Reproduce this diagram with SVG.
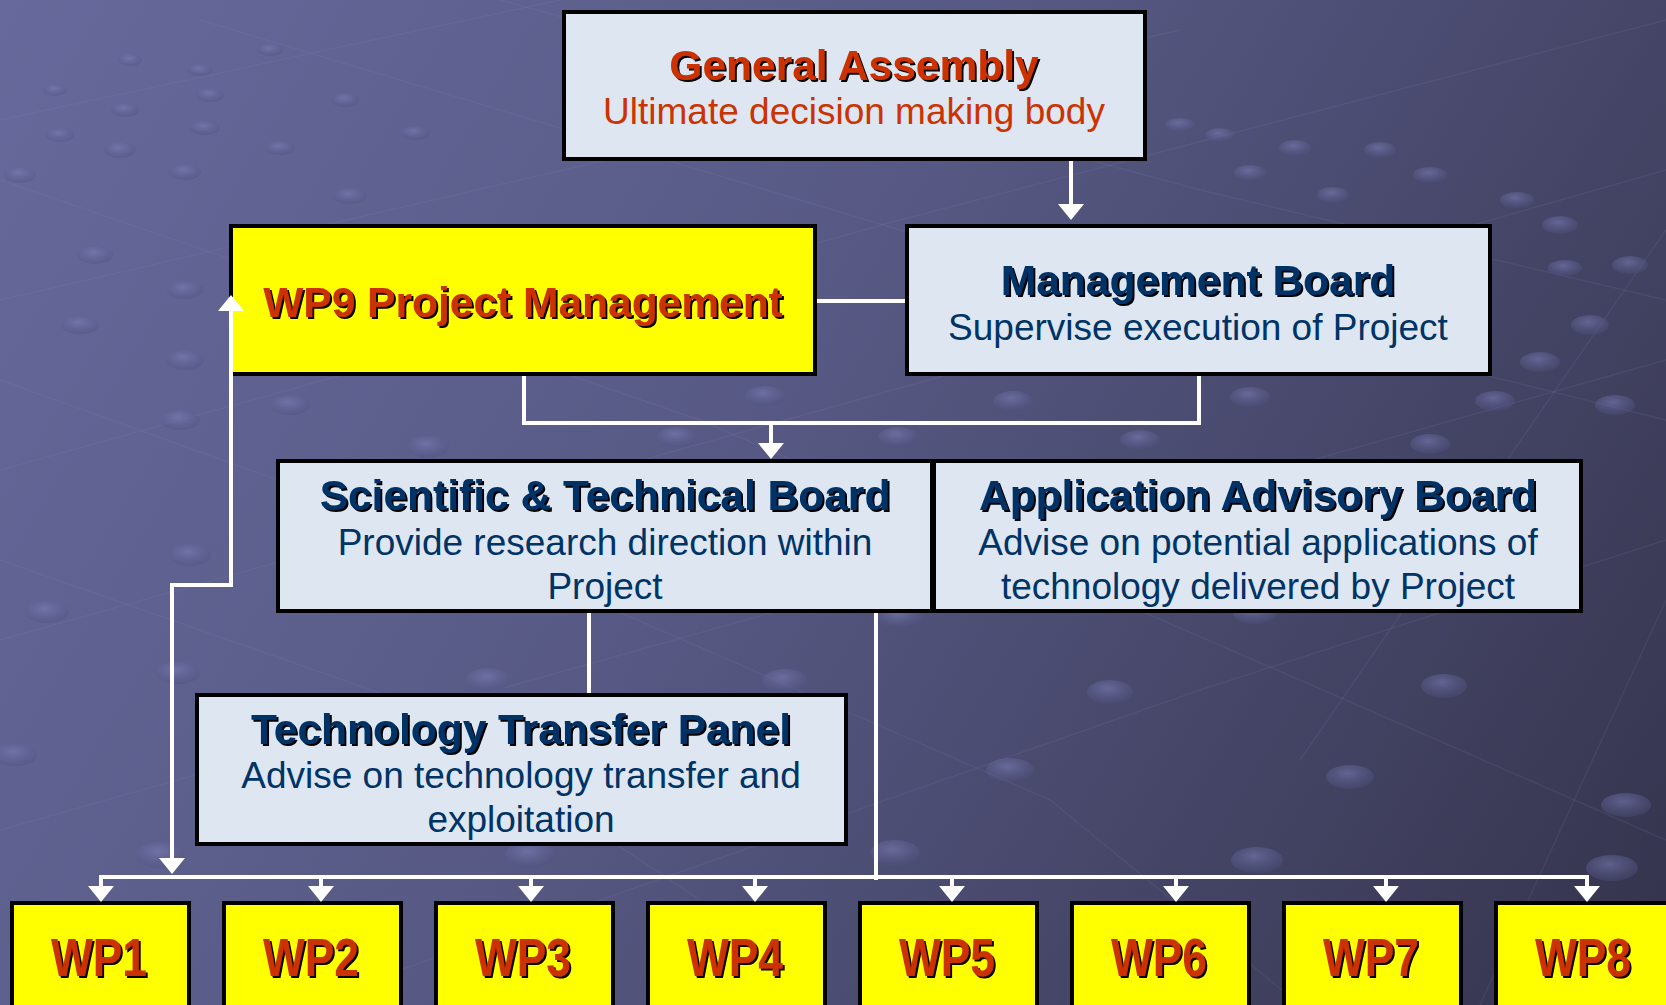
<svg xmlns="http://www.w3.org/2000/svg" width="1666" height="1005" viewBox="0 0 1666 1005">
  <defs>
    <linearGradient id="bg" x1="0" y1="0" x2="1666" y2="1005" gradientUnits="userSpaceOnUse">
      <stop offset="0" stop-color="#67699c"/>
      <stop offset="0.45" stop-color="#575984"/>
      <stop offset="1" stop-color="#34334c"/>
    </linearGradient>
    <radialGradient id="dot" cx="0.45" cy="0.35" r="0.7">
      <stop offset="0" stop-color="#7f82bb" stop-opacity="0.55"/>
      <stop offset="1" stop-color="#4a4b78" stop-opacity="0.35"/>
    </radialGradient>
    <!-- crisp black drop shadow for heading text -->
    <filter id="ts" x="-5%" y="-20%" width="110%" height="150%">
      <feOffset in="SourceAlpha" dx="2" dy="2" result="off"/>
      <feMerge>
        <feMergeNode in="off"/>
        <feMergeNode in="SourceGraphic"/>
      </feMerge>
    </filter>
    <marker id="head" viewBox="0 0 16 26" refX="8" refY="13" markerWidth="16" markerHeight="26" markerUnits="userSpaceOnUse" orient="auto-start-reverse">
      <path d="M0,0 L16,13 L0,26 z" fill="#ffffff"/>
    </marker>
    <style>
      .box { stroke: #000; stroke-width: 4; }
      .blue { fill: #dde6f1; }
      .yellow { fill: #ffff00; }
      text { font-family: "Liberation Sans", Arial, sans-serif; text-anchor: middle; }
      .title { font-size: 42.5px; font-weight: bold; filter: url(#ts); }
      .sub { font-size: 37px; }
      .wp { font-size: 54px; font-weight: bold; filter: url(#ts); }
      .red { fill: #cc3300; }
      .navy { fill: #003366; }
      .wire { fill: none; stroke: #ffffff; stroke-width: 4; }
      .arrow { marker-end: url(#head); }
      .both { marker-start: url(#head); marker-end: url(#head); }
      .grid { stroke: #8a8cc4; stroke-opacity: 0.12; stroke-width: 1.5; fill: none; }
      .d { fill: url(#dot); }
    </style>
  </defs>

  <!-- backdrop -->
  <g id="background">
    <rect x="0" y="0" width="1666" height="1005" fill="url(#bg)"/>
    <g class="grid">
      <path d="M0,120 L560,0"/>
      <path d="M0,300 L780,120 L1180,30"/>
      <path d="M0,470 L900,220 L1666,20"/>
      <path d="M0,640 L1000,360 L1666,170"/>
      <path d="M0,830 L1100,520 L1666,360"/>
      <path d="M300,1005 L1200,690 L1666,540"/>
      <path d="M0,180 L700,420 L1300,680 L1666,840"/>
      <path d="M0,380 L500,560 L1050,800 L1300,1005"/>
      <path d="M0,560 L400,700 L700,900"/>
      <path d="M200,20 L900,230 L1666,420"/>
      <path d="M500,0 L1200,190 L1666,300"/>
      <path d="M1666,600 L1480,1005"/>
      <path d="M1666,230 L1300,760"/>
    </g>
    <g>
      <ellipse class="d" cx="55" cy="90" rx="12" ry="6"/>
      <ellipse class="d" cx="130" cy="60" rx="12" ry="6"/>
      <ellipse class="d" cx="200" cy="70" rx="13" ry="6"/>
      <ellipse class="d" cx="270" cy="50" rx="13" ry="6"/>
      <ellipse class="d" cx="125" cy="110" rx="14" ry="7"/>
      <ellipse class="d" cx="210" cy="95" rx="14" ry="7"/>
      <ellipse class="d" cx="345" cy="100" rx="14" ry="7"/>
      <ellipse class="d" cx="60" cy="135" rx="14" ry="7"/>
      <ellipse class="d" cx="205" cy="128" rx="15" ry="7"/>
      <ellipse class="d" cx="280" cy="148" rx="15" ry="7"/>
      <ellipse class="d" cx="415" cy="133" rx="15" ry="7"/>
      <ellipse class="d" cx="20" cy="175" rx="16" ry="8"/>
      <ellipse class="d" cx="120" cy="150" rx="16" ry="8"/>
      <ellipse class="d" cx="185" cy="172" rx="16" ry="8"/>
      <ellipse class="d" cx="350" cy="196" rx="17" ry="8"/>
      <ellipse class="d" cx="95" cy="255" rx="18" ry="9"/>
      <ellipse class="d" cx="185" cy="290" rx="18" ry="9"/>
      <ellipse class="d" cx="80" cy="325" rx="19" ry="9"/>
      <ellipse class="d" cx="185" cy="360" rx="19" ry="10"/>
      <ellipse class="d" cx="180" cy="420" rx="20" ry="10"/>
      <ellipse class="d" cx="290" cy="405" rx="20" ry="10"/>
      <ellipse class="d" cx="190" cy="555" rx="21" ry="11"/>
      <ellipse class="d" cx="47" cy="612" rx="22" ry="11"/>
      <ellipse class="d" cx="178" cy="673" rx="22" ry="11"/>
      <ellipse class="d" cx="15" cy="755" rx="22" ry="11"/>
      <ellipse class="d" cx="488" cy="680" rx="23" ry="12"/>
      <ellipse class="d" cx="785" cy="681" rx="23" ry="12"/>
      <ellipse class="d" cx="428" cy="447" rx="21" ry="11"/>
      <ellipse class="d" cx="677" cy="437" rx="20" ry="10"/>
      <ellipse class="d" cx="765" cy="396" rx="20" ry="10"/>
      <ellipse class="d" cx="1013" cy="401" rx="20" ry="10"/>
      <ellipse class="d" cx="1250" cy="397" rx="20" ry="10"/>
      <ellipse class="d" cx="898" cy="437" rx="20" ry="10"/>
      <ellipse class="d" cx="1140" cy="440" rx="20" ry="10"/>
      <ellipse class="d" cx="1430" cy="444" rx="20" ry="10"/>
      <ellipse class="d" cx="1495" cy="401" rx="20" ry="10"/>
      <ellipse class="d" cx="1540" cy="362" rx="20" ry="10"/>
      <ellipse class="d" cx="1590" cy="325" rx="19" ry="10"/>
      <ellipse class="d" cx="1630" cy="265" rx="18" ry="9"/>
      <ellipse class="d" cx="1560" cy="225" rx="18" ry="9"/>
      <ellipse class="d" cx="1517" cy="200" rx="17" ry="8"/>
      <ellipse class="d" cx="1430" cy="175" rx="17" ry="8"/>
      <ellipse class="d" cx="1380" cy="150" rx="16" ry="8"/>
      <ellipse class="d" cx="1295" cy="148" rx="16" ry="8"/>
      <ellipse class="d" cx="1250" cy="173" rx="16" ry="8"/>
      <ellipse class="d" cx="1180" cy="125" rx="15" ry="7"/>
      <ellipse class="d" cx="1220" cy="135" rx="15" ry="7"/>
      <ellipse class="d" cx="1333" cy="195" rx="16" ry="8"/>
      <ellipse class="d" cx="1565" cy="268" rx="17" ry="8"/>
      <ellipse class="d" cx="1615" cy="405" rx="20" ry="10"/>
      <ellipse class="d" cx="1110" cy="692" rx="23" ry="12"/>
      <ellipse class="d" cx="1444" cy="686" rx="23" ry="12"/>
      <ellipse class="d" cx="1010" cy="770" rx="24" ry="12"/>
      <ellipse class="d" cx="1350" cy="777" rx="24" ry="12"/>
      <ellipse class="d" cx="1626" cy="805" rx="25" ry="12"/>
      <ellipse class="d" cx="1257" cy="860" rx="26" ry="13"/>
      <ellipse class="d" cx="895" cy="853" rx="25" ry="13"/>
      <ellipse class="d" cx="530" cy="855" rx="25" ry="13"/>
      <ellipse class="d" cx="160" cy="855" rx="25" ry="13"/>
      <ellipse class="d" cx="1612" cy="868" rx="26" ry="13"/>
      <ellipse class="d" cx="1255" cy="613" rx="22" ry="11"/>
      <ellipse class="d" cx="900" cy="617" rx="22" ry="11"/>
    </g>
  </g>

  <!-- nodes -->
  <g id="general-assembly">
    <rect class="box blue" x="564" y="12" width="581" height="147"/>
    <text class="title red" x="854" y="80">General Assembly</text>
    <text class="sub red" x="854" y="124">Ultimate decision making body</text>
  </g>

  <g id="wp9-project-management">
    <rect class="box yellow" x="231" y="226" width="584" height="148"/>
    <text class="title red" x="523" y="317">WP9 Project Management</text>
  </g>

  <g id="management-board">
    <rect class="box blue" x="907" y="226" width="583" height="148"/>
    <text class="title navy" x="1198" y="295">Management Board</text>
    <text class="sub navy" x="1198" y="340">Supervise execution of Project</text>
  </g>

  <g id="scientific-technical-board">
    <rect class="box blue" x="278" y="461" width="654" height="150"/>
    <text class="title navy" x="605" y="510">Scientific &amp; Technical Board</text>
    <text class="sub navy" x="605" y="555">Provide research direction within</text>
    <text class="sub navy" x="605" y="599">Project</text>
  </g>

  <g id="application-advisory-board">
    <rect class="box blue" x="934" y="461" width="647" height="150"/>
    <text class="title navy" x="1258" y="510">Application Advisory Board</text>
    <text class="sub navy" x="1258" y="555">Advise on potential applications of</text>
    <text class="sub navy" x="1258" y="599">technology delivered by Project</text>
  </g>

  <g id="technology-transfer-panel">
    <rect class="box blue" x="197" y="695" width="649" height="149"/>
    <text class="title navy" x="521" y="744">Technology Transfer Panel</text>
    <text class="sub navy" x="521" y="788">Advise on technology transfer and</text>
    <text class="sub navy" x="521" y="832">exploitation</text>
  </g>

  <g id="wp1">
    <rect class="box yellow" x="12" y="903" width="177" height="130"/>
    <text class="wp red" x="99" y="976" textLength="96" lengthAdjust="spacingAndGlyphs">WP1</text>
  </g>
  <g id="wp2">
    <rect class="box yellow" x="224" y="903" width="177" height="130"/>
    <text class="wp red" x="311" y="976" textLength="96" lengthAdjust="spacingAndGlyphs">WP2</text>
  </g>
  <g id="wp3">
    <rect class="box yellow" x="436" y="903" width="177" height="130"/>
    <text class="wp red" x="523" y="976" textLength="96" lengthAdjust="spacingAndGlyphs">WP3</text>
  </g>
  <g id="wp4">
    <rect class="box yellow" x="648" y="903" width="177" height="130"/>
    <text class="wp red" x="735" y="976" textLength="96" lengthAdjust="spacingAndGlyphs">WP4</text>
  </g>
  <g id="wp5">
    <rect class="box yellow" x="860" y="903" width="177" height="130"/>
    <text class="wp red" x="947" y="976" textLength="96" lengthAdjust="spacingAndGlyphs">WP5</text>
  </g>
  <g id="wp6">
    <rect class="box yellow" x="1072" y="903" width="177" height="130"/>
    <text class="wp red" x="1159" y="976" textLength="96" lengthAdjust="spacingAndGlyphs">WP6</text>
  </g>
  <g id="wp7">
    <rect class="box yellow" x="1284" y="903" width="177" height="130"/>
    <text class="wp red" x="1371" y="976" textLength="96" lengthAdjust="spacingAndGlyphs">WP7</text>
  </g>
  <g id="wp8">
    <rect class="box yellow" x="1496" y="903" width="177" height="130"/>
    <text class="wp red" x="1583" y="976" textLength="96" lengthAdjust="spacingAndGlyphs">WP8</text>
  </g>

  <!-- connectors -->
  <g id="connectors">
    <path class="wire arrow" d="M1071,161 V212"/>
    <path class="wire" d="M817,301 H905"/>
    <path class="wire" d="M524,376 V423 H1199 V376"/>
    <path class="wire arrow" d="M771,423 V451"/>
    <path class="wire" d="M589,613 V693"/>
    <path class="wire" d="M876,613 V880"/>
    <path class="wire both" d="M101,894 V877 H1587 V894"/>
    <path class="wire arrow" d="M321,877 V894"/>
    <path class="wire arrow" d="M531,877 V894"/>
    <path class="wire arrow" d="M755,877 V894"/>
    <path class="wire arrow" d="M952,877 V894"/>
    <path class="wire arrow" d="M1176,877 V894"/>
    <path class="wire arrow" d="M1386,877 V894"/>
    <path class="wire both" d="M231,303 V585 H172 V866"/>
  </g>
</svg>
